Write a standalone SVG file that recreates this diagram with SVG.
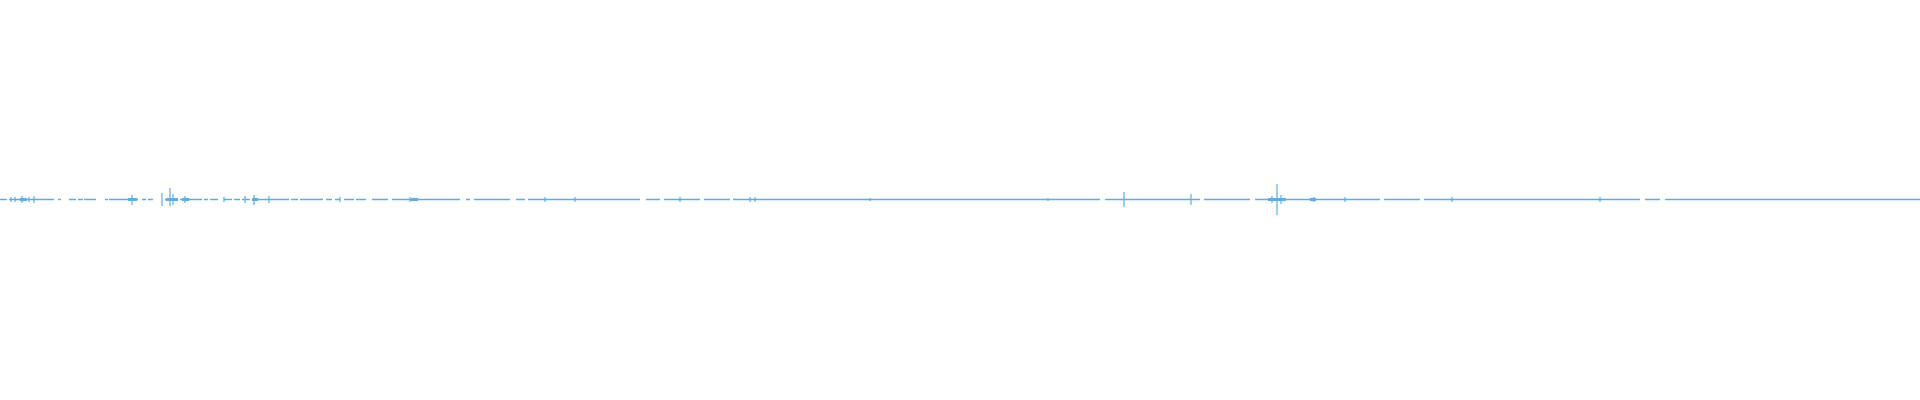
<svg xmlns="http://www.w3.org/2000/svg" width="1920" height="400" viewBox="0 0 1920 400">
<style>.w{stroke:#5dade2;fill:none}.b{stroke-width:1.4}.t{stroke-width:1.2}</style>
<rect width="1920" height="400" fill="#fff"/>
<g id="waveform">
<path class="w b" d="M0 199.5H7M9 199.5H54M58 199.5H61M69 199.5H76M78 199.5H83M84 199.5H96M105 199.5H108M109 199.5H138M142 199.5H146M148 199.5H153M165 199.5H174M176 199.5H178M180 199.5H202M204 199.5H208M210 199.5H218M224 199.5H232M234 199.5H240M242 199.5H250M254 199.5H289M291 199.5H298M300 199.5H323M326 199.5H332M335 199.5H340M344 199.5H354M356 199.5H366M372 199.5H388M392 199.5H460M466 199.5H470M474 199.5H510M516 199.5H525M528 199.5H640M646 199.5H660M664 199.5H700M704 199.5H730M733 199.5H1100M1105 199.5H1200M1204 199.5H1250M1255 199.5H1380M1384 199.5H1420M1424 199.5H1640M1645 199.5H1660M1665 199.5H1920"/>
<path class="w t" d="M11 197V202M15 197V202M22 196V203M29 197V202M34 196V203M132 195V205M162 193V206M170 188V206M173 194V205M185 196V203M224 197V202M245 196V203M254 195V205M269 196V203M340 197V202M410 197V202M545 197V202M575 197V202M680 197V202M750 197V202M755 197V202M870 198V201M1048 198V201M1124 192V207M1191 194V205M1277 184V215M1272 196V203M1281 195V204M1314 197V202M1345 197V202M1452 197V202M1600 197V202"/>
<path class="w" stroke-width="3" d="M20 199.5H27M128 199.5H137M166 199.5H178M182 199.5H189M252 199.5H258M411 199.5H418M1268 199.5H1286M1310 199.5H1316"/>
</g>
</svg>
